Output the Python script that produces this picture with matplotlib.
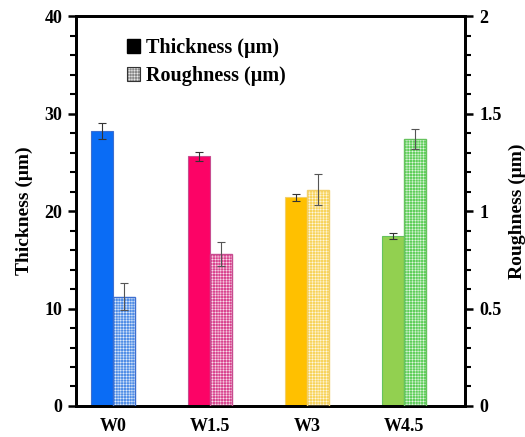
import numpy as np
import matplotlib.pyplot as plt
from matplotlib.patches import Patch
from matplotlib.ticker import MultipleLocator

plt.rcParams['font.family'] = ['Liberation Serif', 'DejaVu Serif']
plt.rcParams['font.weight'] = 'bold'
plt.rcParams['hatch.linewidth'] = 0.3

samples = ['W0', 'W1.5', 'W3', 'W4.5']
thickness = [28.2, 25.6, 21.4, 17.4]
thickness_err = [0.8, 0.5, 0.4, 0.3]
roughness = [0.56, 0.78, 1.11, 1.37]
roughness_err = [0.07, 0.06, 0.08, 0.05]

solid = ['#0a6cf5', '#fc0366', '#ffc000', '#92d050']
light = ['#4f8de6', '#d9448f', '#f7d35a', '#5fce5a']
edges = ['#3d6fd0', '#c74d90', '#f2cf6a', '#66c25e']

fig = plt.figure(figsize=(5.25, 4.37), dpi=100)
ax = fig.add_axes([0.145, 0.071, 0.741, 0.892])
ax2 = ax.twinx()

x = np.arange(len(samples))
w = 0.23

ax.bar(x - w / 2, thickness, w, color=solid, edgecolor=edges, linewidth=0.8, zorder=2)
ax.errorbar(x - w / 2, thickness, yerr=thickness_err, fmt='none', ecolor='#333333',
            elinewidth=0.8, capsize=3, capthick=0.8, zorder=3)

# checkered roughness bars: fine white hatch over the colour, then an outline
ax2.bar(x + w / 2, roughness, w, color=light, edgecolor='white', hatch='++++++',
        linewidth=0, zorder=2)
ax2.bar(x + w / 2, roughness, w, fill=False, edgecolor=edges, linewidth=1.0, zorder=3)
ax2.errorbar(x + w / 2, roughness, yerr=roughness_err, fmt='none', ecolor='#555555',
             elinewidth=0.8, capsize=3, capthick=0.8, zorder=4)

ax.set_xlim(-0.38, 3.63)
ax.set_ylim(0, 40)
ax2.set_ylim(0, 2)
ax.set_xticks(x)
ax.set_xticklabels(samples, fontsize=13, fontweight='bold')
ax.tick_params(axis='x', length=0, pad=9)

ax.yaxis.set_major_locator(MultipleLocator(10))
ax.yaxis.set_minor_locator(MultipleLocator(2))
ax2.yaxis.set_minor_locator(MultipleLocator(0.1))
ax2.set_yticks([0, 0.5, 1, 1.5, 2])
ax2.set_yticklabels(['0', '0.5', '1', '1.5', '2'])
for a in (ax, ax2):
    a.tick_params(axis='y', which='major', direction='out', length=6, width=1.8,
                  labelsize=13, pad=4)
    a.tick_params(axis='y', which='minor', direction='out', length=4, width=1.5)
    for s in a.spines.values():
        s.set_linewidth(2)
for lab in ax.get_yticklabels() + ax2.get_yticklabels():
    lab.set_fontweight('bold')

ax.set_ylabel('Thickness (μm)', fontsize=14, fontweight='bold', labelpad=8)
ax2.set_ylabel('Roughness (μm)', fontsize=14, fontweight='bold', labelpad=5)

checker = (Patch(facecolor='#888888', edgecolor='white', hatch='++++++', linewidth=0),
           Patch(fill=False, edgecolor='#333333', linewidth=0.8))
handles = [Patch(facecolor='black', edgecolor='black'), checker]
ax.legend(handles, ['Thickness (μm)', 'Roughness (μm)'], loc='upper left',
          bbox_to_anchor=(0.085, 0.99), frameon=False, handlelength=0.65,
          handleheight=0.65, handletextpad=0.3, labelspacing=0.4,
          prop={'size': 14.5, 'weight': 'bold'})

fig.savefig('out.png', dpi=100)
